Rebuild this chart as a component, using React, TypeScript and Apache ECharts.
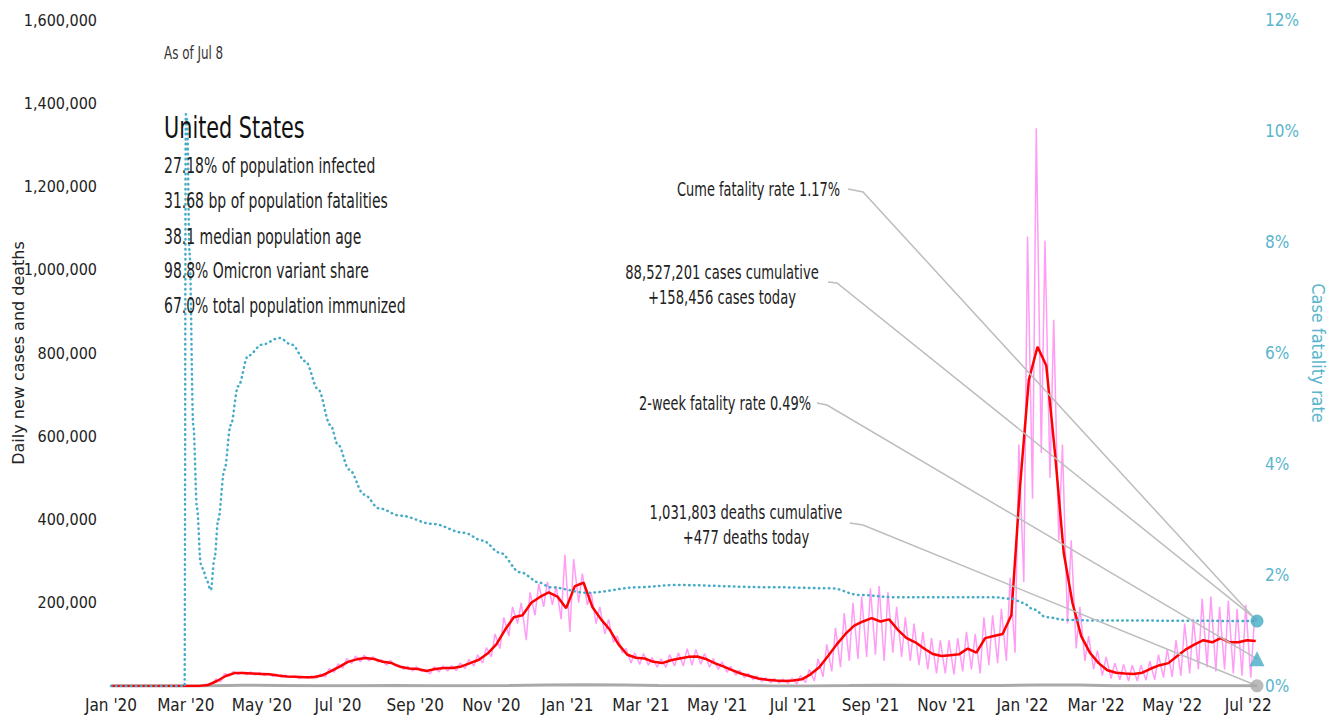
import React, { useEffect, useRef } from "react";
import * as echarts from "echarts";

const FONT = "'DejaVu Sans Condensed', 'DejaVu Sans', sans-serif";
const FONT_WIDE = "'DejaVu Sans', sans-serif";
const TEAL = "#45abc6";
const TEAL_LABEL = "#5ab5cc";
const PINK = "#ff9cf5";
const RED = "#ff0000";
const GRAY = "#a9a9a9";

// x-axis tick labels
const xTickDates = [
  "2020-01-01", "2020-03-01", "2020-05-01", "2020-07-01", "2020-09-01", "2020-11-01",
  "2021-01-01", "2021-03-01", "2021-05-01", "2021-07-01", "2021-09-01", "2021-11-01",
  "2022-01-01", "2022-03-01", "2022-05-01", "2022-07-01",
];
const xTickLabels = [
  "Jan '20", "Mar '20", "May '20", "Jul '20", "Sep '20", "Nov '20",
  "Jan '21", "Mar '21", "May '21", "Jul '21", "Sep '21", "Nov '21",
  "Jan '22", "Mar '22", "May '22", "Jul '22",
];

const START_DATE = "2020-01-01";
const LAST_DATE = "2022-07-08";
const FIRST_WED = "2020-01-22"; // mid-week (high reporting) day of first week
const FIRST_THU = "2020-01-23"; // centre of first 7-day average week

// Daily new cases, thousands: weekly mid-week highs
const casesHighK = [
  0, 0, 0, 0, 0, 0, 0.05, 0.6, 5, 17,
  30, 35, 33, 34, 33, 30, 27, 26, 24, 23,
  24, 29, 42, 53, 66, 72, 74, 70, 63, 62,
  50, 47, 46, 40, 46, 48, 49, 55, 64, 75,
  92, 125, 165, 190, 200, 225, 245, 250, 240, 315,
  305, 270, 225, 190, 160, 120, 90, 80, 78, 68,
  65, 75, 80, 90, 88, 78, 66, 58, 47, 38,
  30, 24, 20, 18, 17, 19, 25, 40, 65, 100,
  140, 175, 200, 215, 235, 240, 225, 190, 165, 150,
  130, 115, 110, 110, 115, 130, 125, 165, 170, 185,
  260, 580, 1080, 1340, 1070, 880, 580, 350, 190, 120,
  85, 70, 55, 52, 50, 50, 60, 75, 88, 110,
  150, 160, 210, 215, 190, 205, 185, 195, 165,
];
// Daily new cases, thousands: weekly weekend lows
const casesLowK = [
  0, 0, 0, 0, 0, 0, 0.02, 0.2, 2, 10,
  24, 28, 27, 26, 25, 23, 21, 20, 18, 19,
  19, 22, 33, 43, 54, 58, 60, 58, 50, 48,
  40, 36, 35, 29, 34, 36, 37, 42, 48, 55,
  70, 90, 120, 150, 110, 170, 190, 195, 160, 130,
  200, 195, 150, 125, 105, 80, 55, 52, 50, 45,
  45, 48, 48, 50, 52, 45, 40, 33, 26, 20,
  15, 10, 8, 7, 6, 5, 8, 12, 22, 35,
  45, 60, 65, 70, 75, 60, 80, 70, 60, 50,
  40, 30, 30, 28, 35, 40, 30, 50, 55, 60,
  80, 250, 450, 560, 500, 350, 150, 90, 60, 40,
  25, 18, 15, 12, 12, 14, 15, 20, 22, 25,
  30, 40, 45, 35, 40, 30, 25, 20,
];
// 7-day average of new cases, thousands (weekly)
const avgCasesK = [
  0, 0, 0, 0, 0, 0, 0.03, 0.3, 2.5, 12,
  24, 31, 31, 30, 29, 28, 25, 23, 22, 21,
  21, 25, 35, 46, 58, 64, 67, 65, 58, 55,
  46, 42, 41, 36, 41, 43, 43, 47, 55, 63,
  78, 100, 135, 165, 170, 200, 214, 225, 215, 187,
  240, 248, 190, 160, 135, 100, 75, 68, 66, 58,
  55, 62, 66, 70, 71, 65, 55, 47, 38, 30,
  24, 18, 15, 13, 12, 13, 16, 28, 45, 72,
  100, 125, 145, 155, 163, 155, 160, 135, 115, 105,
  90, 77, 72, 74, 76, 90, 80, 115, 120, 125,
  170, 480, 735, 815, 770, 560, 320, 200, 120, 80,
  55, 38, 32, 30, 29, 32, 42, 50, 55, 72,
  88, 100, 110, 105, 115, 105, 105, 110, 108,
];
const casesToday = 158456;

// Daily deaths (7-day average)
const deathDates = [
  "2020-01-01", "2020-03-10", "2020-04-15", "2020-05-15", "2020-06-15", "2020-07-15",
  "2020-08-15", "2020-09-15", "2020-10-15", "2020-11-15", "2020-12-15", "2021-01-15",
  "2021-02-15", "2021-03-15", "2021-04-15", "2021-05-15", "2021-06-15", "2021-07-15",
  "2021-08-15", "2021-09-15", "2021-10-15", "2021-11-15", "2021-12-15", "2022-01-15",
  "2022-02-15", "2022-03-15", "2022-04-15", "2022-05-15", "2022-06-15", "2022-07-08",
];
const deathValues = [
  0, 5, 2000, 1500, 700, 900, 1000, 800, 750, 1400, 2600, 3300,
  2200, 1100, 700, 600, 300, 300, 1100, 2000, 1500, 1100, 1300, 2200,
  2300, 900, 450, 350, 350, 477,
];
const deathsToday = 477;

// Cumulative case fatality rate, %
const cfrDates = [
  "2020-01-01", "2020-02-29", "2020-03-01", "2020-03-02", "2020-03-04", "2020-03-07",
  "2020-03-10", "2020-03-13", "2020-03-15", "2020-03-17", "2020-03-21", "2020-03-24",
  "2020-03-27", "2020-04-01", "2020-04-06", "2020-04-12", "2020-04-20", "2020-05-01",
  "2020-05-15", "2020-05-25", "2020-06-05", "2020-06-15", "2020-06-25", "2020-07-01",
  "2020-07-10", "2020-07-22", "2020-08-03", "2020-08-20", "2020-09-15", "2020-10-10",
  "2020-10-25", "2020-11-08", "2020-11-24", "2020-12-10", "2020-12-18", "2021-01-17",
  "2021-02-28", "2021-03-28", "2021-06-13", "2021-08-01", "2021-08-23", "2021-09-20",
  "2021-12-08", "2021-12-24", "2022-01-01", "2022-01-10", "2022-01-20", "2022-02-05",
  "2022-03-01", "2022-07-08",
];
const cfrValues = [
  0, 0, 10.3, 10.2, 7.8, 4.7,
  3.2, 2.2, 2.1, 1.95, 1.73, 2.3,
  3.0, 3.9, 4.7, 5.4, 5.95, 6.15,
  6.27, 6.15, 5.85, 5.35, 4.7, 4.35,
  3.9, 3.45, 3.2, 3.07, 2.92, 2.76,
  2.62, 2.4, 2.05, 1.86, 1.78, 1.68,
  1.78, 1.82, 1.78, 1.76, 1.64, 1.6,
  1.6, 1.57, 1.5, 1.38, 1.24, 1.19,
  1.18, 1.17,
];
const cumeFatalityRate = 1.17;
const twoWeekFatalityRate = 0.49;

const statLines = [
  "27.18% of population infected",
  "31.68 bp of population fatalities",
  "38.1 median population age",
  "98.8% Omicron variant share",
  "67.0% total population immunized",
];

function toTime(s: string, addDays = 0): number {
  const [y, m, d] = s.split("-").map(Number);
  return Date.UTC(y, m - 1, d + addDays);
}

function label(id: string, text: string, x: number, y: number, size: number, sx: number, align = "left", fill = "#222") {
  return {
    type: "text",
    id,
    x,
    y,
    scaleX: sx,
    z: 10,
    style: { text, font: `${size}px ${FONT}`, fill, align, verticalAlign: "middle" },
  };
}

export default function App() {
  const ref = useRef<HTMLDivElement>(null);

  useEffect(() => {
    document.body.style.margin = "0";
    const el = ref.current!;
    const chart = echarts.init(el, null, { renderer: "svg" });

    const lastT = toTime(LAST_DATE);
    const pink: [number, number][] = [[toTime(START_DATE), 0]];
    casesHighK.forEach((hi, k) => {
      pink.push([toTime(FIRST_WED, 7 * k), hi * 1000]);
      if (k < casesLowK.length) {
        const lt = toTime(FIRST_WED, 7 * k + 4);
        if (lt < lastT) pink.push([lt, casesLowK[k] * 1000]);
      }
    });
    pink.push([lastT, casesToday]);

    const red: [number, number][] = [[toTime(START_DATE), 0]];
    avgCasesK.forEach((v, k) => red.push([toTime(FIRST_THU, 7 * k), v * 1000]));

    const deaths = deathDates.map((s, i) => [toTime(s), deathValues[i]]);
    const cfr = cfrDates.map((s, i) => [toTime(s), cfrValues[i]]);
    const tickTimes = xTickDates.map((s) => toTime(s));

    const SX = 0.74;
    const statYs = [166, 201, 237, 271, 306];
    const textEls: any[] = [
      label("asof", "As of Jul 8", 164, 53, 17, 0.78, "left", "#333"),
      label("title", "United States", 164, 127, 31, 0.745, "left", "#111"),
      ...statLines.map((t, i) => label("stat" + i, t, 164, statYs[i], 21, SX)),
      label("a1", "Cume fatality rate 1.17%", 840, 189, 20, 0.72, "right"),
      label("a2a", "88,527,201 cases cumulative", 722, 272, 20, 0.73, "center"),
      label("a2b", "+158,456 cases today", 722, 297, 20, 0.73, "center"),
      label("a3", "2-week fatality rate 0.49%", 811, 403, 20, 0.72, "right"),
      label("a4a", "1,031,803 deaths cumulative", 746, 512, 20, 0.73, "center"),
      label("a4b", "+477 deaths today", 746, 537, 20, 0.73, "center"),
    ];

    chart.setOption({
      animation: false,
      backgroundColor: "#ffffff",
      textStyle: { fontFamily: FONT },
      grid: { left: 111, right: 78, top: 20, bottom: 38, containLabel: false, outerBoundsMode: "none" },
      xAxis: {
        type: "value",
        min: toTime(START_DATE),
        max: lastT,
        axisLine: { show: false },
        axisTick: { show: false },
        splitLine: { show: false },
        axisLabel: {
          customValues: tickTimes,
          formatter: (v: number) => {
            const i = tickTimes.indexOf(v);
            return i >= 0 ? xTickLabels[i] : "";
          },
          color: "#222",
          fontSize: 17,
          fontFamily: FONT,
          margin: 10,
          showMinLabel: true,
          showMaxLabel: true,
        },
      },
      yAxis: [
        {
          type: "value",
          min: 0,
          max: 1600000,
          interval: 200000,
          name: "Daily new cases and deaths",
          nameLocation: "middle",
          nameGap: 85,
          nameMoveOverlap: false,
          nameTextStyle: { color: "#222", fontSize: 16, fontFamily: FONT_WIDE },
          axisLine: { show: false },
          axisTick: { show: false },
          splitLine: { show: false },
          axisLabel: {
            showMinLabel: false,
            color: "#222",
            fontSize: 16,
            fontFamily: FONT,
            margin: 14,
            formatter: (v: number) => v.toLocaleString("en-US"),
          },
        },
        {
          type: "value",
          min: 0,
          max: 12,
          interval: 2,
          position: "right",
          name: "Case fatality rate",
          nameLocation: "middle",
          nameGap: 52,
          nameRotate: -90,
          nameMoveOverlap: false,
          nameTextStyle: { color: TEAL_LABEL, fontSize: 18, fontFamily: FONT },
          axisLine: { show: false },
          axisTick: { show: false },
          splitLine: { show: false },
          axisLabel: { color: TEAL_LABEL, fontSize: 17, fontFamily: FONT, margin: 8, formatter: "{value}%" },
        },
      ],
      series: [
        {
          name: "Daily new cases",
          type: "line",
          data: pink,
          showSymbol: false,
          lineStyle: { color: PINK, width: 1.5 },
          z: 1,
        },
        {
          name: "Daily deaths",
          type: "line",
          data: deaths,
          showSymbol: false,
          lineStyle: { color: GRAY, width: 3 },
          z: 2,
        },
        {
          name: "Cases 7-day average",
          type: "line",
          data: red,
          showSymbol: false,
          lineStyle: { color: RED, width: 2.5 },
          z: 3,
        },
        {
          name: "Case fatality rate",
          type: "line",
          yAxisIndex: 1,
          data: cfr,
          showSymbol: false,
          smooth: 0.35,
          smoothMonotone: "x",
          lineStyle: { color: TEAL, width: 2.5, type: [0.5, 4.5], cap: "round" },
          z: 4,
        },
        {
          name: "Cume fatality rate",
          type: "scatter",
          yAxisIndex: 1,
          data: [[lastT, cumeFatalityRate]],
          symbol: "circle",
          symbolSize: 13,
          itemStyle: { color: TEAL },
          z: 6,
        },
        {
          name: "2-week fatality rate",
          type: "scatter",
          yAxisIndex: 1,
          data: [[lastT, twoWeekFatalityRate]],
          symbol: "triangle",
          symbolSize: 15,
          itemStyle: { color: TEAL },
          z: 6,
        },
        {
          name: "Deaths today",
          type: "scatter",
          data: [[lastT, deathsToday]],
          symbol: "circle",
          symbolSize: 13,
          itemStyle: { color: GRAY },
          z: 6,
        },
      ],
      graphic: textEls,
    });

    const px = (axis: number, v: number) =>
      chart.convertToPixel({ xAxisIndex: 0, yAxisIndex: axis } as any, [lastT, v]) as number[];
    const targets = [
      { id: "l1", a: [848, 189], b: [863, 192], t: px(1, cumeFatalityRate) },
      { id: "l2", a: [828, 282], b: [837, 283], t: px(0, casesToday) },
      { id: "l3", a: [817, 403], b: [827, 405], t: px(1, twoWeekFatalityRate) },
      { id: "l4", a: [850, 523], b: [863, 525], t: px(0, deathsToday) },
    ];
    const lines = targets.map((o) => ({
      type: "polyline",
      id: o.id,
      z: 5,
      shape: { points: [o.a, o.b, o.t] },
      style: { stroke: "#bdbdbd", lineWidth: 1.5, fill: null },
    }));
    chart.setOption({ graphic: [...textEls, ...lines] });

    return () => chart.dispose();
  }, []);

  return <div ref={ref} style={{ position: "fixed", left: 0, top: 0, width: 1335, height: 724 }} />;
}
